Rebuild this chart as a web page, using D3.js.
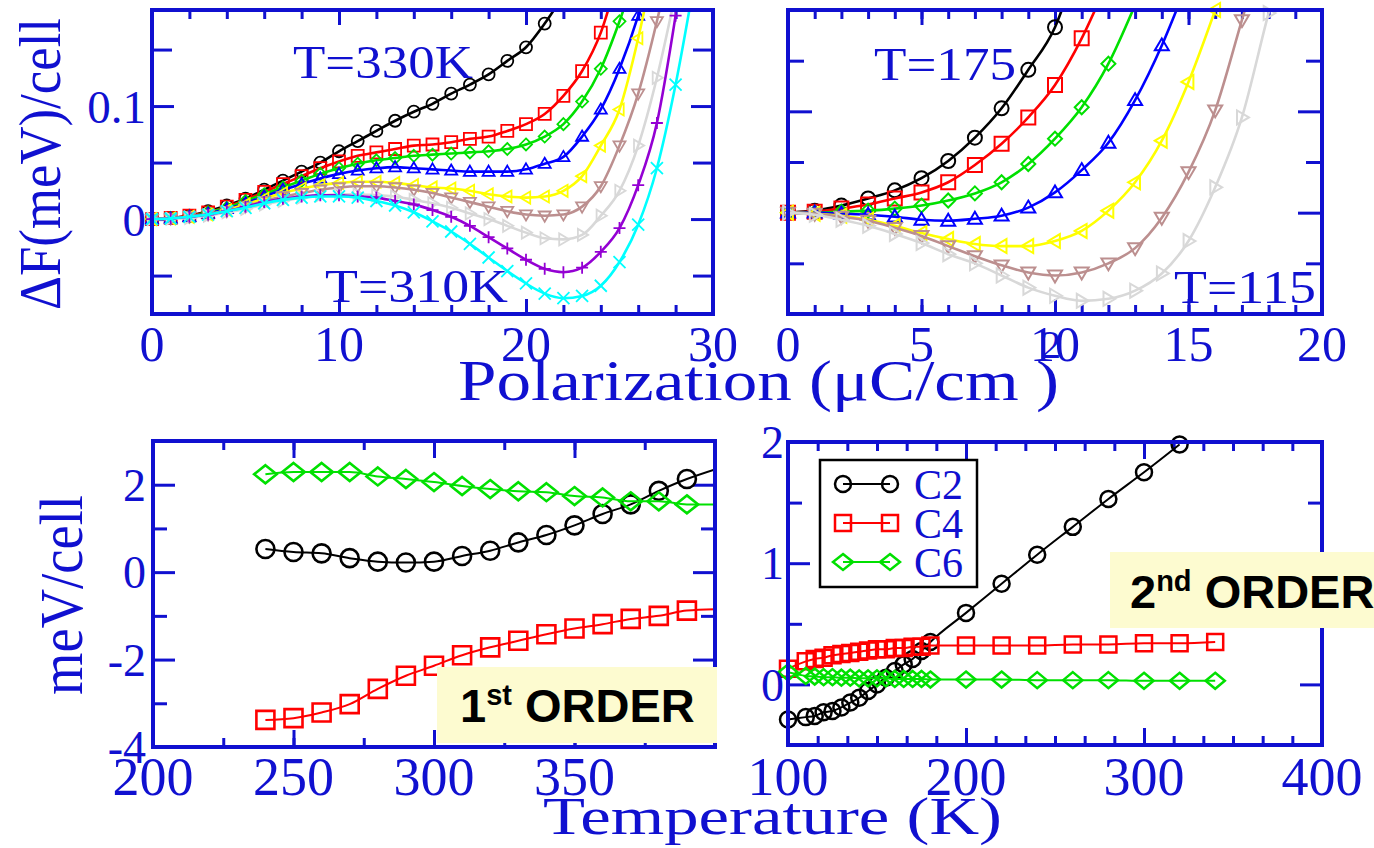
<!DOCTYPE html>
<html lang="en">
<head>
<meta charset="UTF-8">
<title>Free energy vs polarization, Landau coefficients vs temperature</title>
<script src="https://d3js.org/d3.v7.min.js"></script>
<style>
  body { margin: 0; background: #fff; }
  text { font-family: "Liberation Serif", "DejaVu Serif", serif; fill: #1010d0; }
  .order text, .order tspan { font-family: "Liberation Sans", Arial, sans-serif; font-weight: bold; fill: #000; }
</style>
</head>
<body>
<svg id="chart" width="1374" height="848"></svg>
<script>
// ---- data: top-left, dF vs P, T=330K (black) down to T=310K (cyan)
const polLeft = [0,1,2,3,4,5,6,7,8,9,10,11,12,13,14,15,16,17,18,19,20,21,22,23,24,25,26,27,28,29];
const tl330   = [0,0.001,0.003,0.007,0.012,0.018,0.026,0.034,0.042,0.050,0.060,0.069,0.078,0.087,0.095,0.102,0.111,0.119,0.128,0.140,0.152,0.173,0.198];
const tl327_5 = [0,0.001,0.003,0.006,0.011,0.017,0.024,0.031,0.038,0.045,0.051,0.056,0.059,0.062,0.065,0.066,0.068,0.071,0.073,0.078,0.084,0.093,0.109,0.131,0.165,0.220];
const tl325   = [0,0.001,0.002,0.006,0.010,0.016,0.022,0.028,0.034,0.040,0.045,0.049,0.052,0.054,0.056,0.057,0.058,0.059,0.060,0.062,0.066,0.073,0.084,0.104,0.133,0.175,0.225];
const tl322_5 = [0,0.0005,0.002,0.005,0.009,0.014,0.020,0.026,0.031,0.036,0.040,0.043,0.045,0.046,0.045,0.044,0.043,0.042,0.042,0.042,0.044,0.049,0.055,0.073,0.097,0.133,0.180,0.240];
const tl320   = [0,0.0005,0.002,0.004,0.008,0.013,0.018,0.023,0.027,0.030,0.032,0.033,0.033,0.032,0.030,0.028,0.027,0.025,0.022,0.020,0.019,0.020,0.025,0.038,0.065,0.097,0.160,0.240];
const tl317_5 = [0,0.0005,0.002,0.004,0.007,0.011,0.016,0.020,0.023,0.026,0.028,0.029,0.029,0.028,0.026,0.023,0.019,0.015,0.011,0.007,0.004,0.003,0.004,0.011,0.029,0.065,0.111,0.175,0.250];
const tl315   = [0,0.0003,0.001,0.003,0.006,0.009,0.013,0.016,0.019,0.021,0.022,0.022,0.021,0.020,0.017,0.014,0.010,0.005,0.000,-0.006,-0.012,-0.017,-0.018,-0.014,0.003,0.025,0.065,0.125,0.200];
const tl312_5 = [0,0.0005,0.002,0.004,0.007,0.011,0.015,0.018,0.020,0.021,0.021,0.020,0.019,0.016,0.013,0.008,0.002,-0.006,-0.016,-0.026,-0.036,-0.044,-0.047,-0.043,-0.029,-0.008,0.030,0.085,0.180];
const tl310   = [0,0.0005,0.002,0.004,0.007,0.010,0.014,0.017,0.019,0.020,0.020,0.019,0.016,0.012,0.006,-0.002,-0.011,-0.022,-0.034,-0.046,-0.057,-0.066,-0.070,-0.068,-0.059,-0.038,-0.005,0.045,0.119,0.210];

// ---- data: top-right, dF vs P, T=175 (black) down to T=115 (grey)
const polRight = [0,1,2,3,4,5,6,7,8,9,10,11,12,13,14,15,16,17,18,19];
const tr175 = [0,0.002,0.007,0.014,0.022,0.034,0.051,0.074,0.103,0.141,0.183,0.26];
const tr165 = [0,0.001,0.004,0.008,0.014,0.020,0.030,0.047,0.068,0.094,0.126,0.172,0.23];
const tr155 = [0,0,0.001,0.002,0.004,0.007,0.012,0.019,0.030,0.048,0.073,0.104,0.147,0.205];
const tr145 = [0,0,-0.001,-0.002,-0.004,-0.007,-0.008,-0.006,-0.003,0.005,0.020,0.042,0.069,0.111,0.165,0.23];
const tr135 = [0,-0.001,-0.003,-0.007,-0.013,-0.020,-0.026,-0.031,-0.033,-0.033,-0.028,-0.018,0.002,0.030,0.071,0.129,0.200];
const tr125 = [0,-0.001,-0.004,-0.008,-0.015,-0.023,-0.033,-0.043,-0.052,-0.059,-0.062,-0.059,-0.050,-0.035,-0.005,0.040,0.101,0.190,0.28];
const tr115 = [0,-0.002,-0.007,-0.013,-0.021,-0.030,-0.041,-0.050,-0.062,-0.074,-0.082,-0.087,-0.085,-0.077,-0.060,-0.028,0.025,0.094,0.197,0.29];

// ---- data: bottom-left, coefficients (meV/cell) vs T, 1st order
const tempLeft = [240,250,260,270,280,290,300,310,320,330,340,350,360,370,380,390,400];
const blC2 = [0.53,0.46,0.43,0.32,0.24,0.22,0.24,0.37,0.49,0.68,0.85,1.07,1.33,1.55,1.86,2.13,2.35];
const blC4 = [-3.38,-3.34,-3.21,-3.02,-2.67,-2.37,-2.14,-1.90,-1.72,-1.57,-1.42,-1.29,-1.19,-1.07,-1.00,-0.88,-0.85];
const blC6 = [2.24,2.29,2.29,2.29,2.19,2.13,2.06,1.97,1.90,1.85,1.83,1.74,1.71,1.62,1.62,1.55,1.55];

// ---- data: bottom-right, coefficients vs T, 2nd order
const tempRight = [100,110,115,120,125,130,135,140,145,150,155,160,165,170,175,180,200,220,240,260,280,300,320,340];
const brC2 = [-0.29,-0.27,-0.26,-0.23,-0.22,-0.19,-0.15,-0.11,-0.055,0.0,0.055,0.11,0.165,0.21,0.275,0.35,0.59,0.83,1.07,1.30,1.53,1.75,1.98];
const brC4 = [0.13,0.19,0.21,0.22,0.24,0.25,0.26,0.27,0.28,0.29,0.29,0.30,0.30,0.31,0.31,0.32,0.32,0.32,0.32,0.33,0.33,0.34,0.34,0.35];
const brC6 = [0.10,0.07,0.065,0.06,0.06,0.055,0.055,0.05,0.05,0.05,0.05,0.045,0.045,0.045,0.045,0.04,0.04,0.04,0.035,0.035,0.035,0.03,0.03,0.03];

// tick labels
const tlXLabels = [0,10,20,30], tlYLabels = [0,0.1];
const trXLabels = [0,5,10,15,20];
const blXLabels = [200,250,300,350], blYLabels = [-4,-2,0,2];
const brXLabels = [100,200,300,400], brYLabels = [0,1,2];
const legendNames = ["C2","C4","C6"];

// styles (grace palette)
const curveColors = ["#000000","#ff0000","#00e000","#0000ff","#ffff00","#bc8f8f","#d8d8d8","#9400d3","#00ffff"];
const curveSymbols = ["circle","square","diamond","up","left","down","right","plus","cross"];
const BLUE = "#1010d0";

const svg = d3.select("#chart");
svg.append("rect").attr("width", 1374).attr("height", 848).attr("fill", "#fff");

function markerPath(sym, s, w) {
  w = w || s;
  switch (sym) {
    case "circle": return `M${s},0A${s},${s} 0 1,1 ${-s},0A${s},${s} 0 1,1 ${s},0Z`;
    case "square": return `M${-s},${-s}H${s}V${s}H${-s}Z`;
    case "diamond": return `M0,${-s}L${w},0L0,${s}L${-w},0Z`;
    case "up": return `M0,${-s}L${s},${s*0.7}L${-s},${s*0.7}Z`;
    case "down": return `M0,${s}L${s},${-s*0.7}L${-s},${-s*0.7}Z`;
    case "left": return `M${-s},0L${s*0.7},${-s}L${s*0.7},${s}Z`;
    case "right": return `M${s},0L${-s*0.7},${-s}L${-s*0.7},${s}Z`;
    case "plus": return `M${-s},0H${s}M0,${-s}V${s}`;
    case "cross": return `M${-s},${-s}L${s},${s}M${s},${-s}L${-s},${s}`;
  }
}

function makePanel(p) {
  const x = d3.scaleLinear().domain(p.xDomain).range([p.left, p.right]);
  const y = d3.scaleLinear().domain(p.yDomain).range([p.bottom, p.top]);
  const g = svg.append("g");

  svg.append("clipPath").attr("id", "clip-" + p.id).append("rect")
    .attr("x", p.left).attr("y", p.top)
    .attr("width", p.right - p.left).attr("height", p.bottom - p.top);

  // inward ticks on all four sides, minor + major
  const tickSets = [
    [d3.axisBottom, x, p.bottom, "x"], [d3.axisTop, x, p.top, "x"],
    [d3.axisLeft, y, p.left, "y"], [d3.axisRight, y, p.right, "y"]
  ];
  tickSets.forEach(([axisFn, sc, pos, dir]) => {
    const t = dir === "x" ? p.xTicks : p.yTicks;
    [[t.minor, t.minLen], [t.major, t.majLen]].forEach(([vals, len]) => {
      const ax = g.append("g")
        .attr("transform", dir === "x" ? `translate(0,${pos})` : `translate(${pos},0)`)
        .attr("color", BLUE)
        .call(axisFn(sc).tickValues(vals).tickSize(-len).tickFormat(""));
      ax.select(".domain").remove();
      ax.selectAll("line").attr("stroke-width", 3);
    });
  });

  // curves
  const line = d3.line().x(d => x(d[0])).y(d => y(d[1])).curve(d3.curveMonotoneX);
  const dataG = g.append("g");
  p.series.forEach(s => {
    const pts = s.values.map((v, i) => [s.xs[i], v]);
    dataG.append("path")
      .datum(pts)
      .attr("clip-path", `url(#clip-${p.id})`)
      .attr("fill", "none")
      .attr("stroke", s.color)
      .attr("stroke-width", p.lineWidth)
      .attr("d", line);
    dataG.append("g").selectAll("path")
      .data(pts.filter(d => d[1] <= p.yDomain[1] && d[0] < p.xDomain[1]))
      .join("path")
      .attr("transform", d => `translate(${x(d[0])},${y(d[1])})`)
      .attr("d", markerPath(s.symbol, p.markSize, p.markSize * (s.symbol === "diamond" ? p.diamondW : 1)))
      .attr("fill", "none")
      .attr("stroke", s.color)
      .attr("stroke-width", p.markWidth);
  });

  // frame
  g.append("rect")
    .attr("x", p.left).attr("y", p.top)
    .attr("width", p.right - p.left).attr("height", p.bottom - p.top)
    .attr("fill", "none").attr("stroke", BLUE).attr("stroke-width", 4);

  // tick labels
  g.append("g").selectAll("text").data(p.xLabels).join("text")
    .attr("x", d => x(d)).attr("y", p.xLabelY)
    .attr("text-anchor", "middle").attr("font-size", p.xLabelSize)
    .text(d => d);
  g.append("g").selectAll("text").data(p.yLabels).join("text")
    .attr("x", p.yLabelX).attr("y", d => y(d)).attr("dy", "0.35em")
    .attr("text-anchor", "end").attr("font-size", p.yLabelSize)
    .text(d => d);
  return { x, y, g };
}

const tlValues = [tl330, tl327_5, tl325, tl322_5, tl320, tl317_5, tl315, tl312_5, tl310];
const trValues = [tr175, tr165, tr155, tr145, tr135, tr125, tr115];

makePanel({
  id: "tl", left: 152, right: 713, top: 10, bottom: 314,
  xDomain: [0, 30], yDomain: [-0.084, 0.185],
  xTicks: { minor: d3.range(0, 31, 2), major: [0, 10, 20, 30], minLen: 9, majLen: 15 },
  yTicks: { minor: [-0.05, 0.05, 0.15], major: [0, 0.1], minLen: 20, majLen: 22 },
  series: tlValues.map((v, i) => ({ xs: polLeft, values: v, color: curveColors[i], symbol: curveSymbols[i] })),
  lineWidth: 2.6, markSize: 6, markWidth: 1.8, diamondW: 1,
  xLabels: tlXLabels, xLabelY: 361, xLabelSize: 50,
  yLabels: tlYLabels, yLabelX: 146, yLabelSize: 47
});

makePanel({
  id: "tr", left: 788, right: 1322, top: 10, bottom: 314,
  xDomain: [0, 20], yDomain: [-0.1, 0.2],
  xTicks: { minor: d3.range(0, 21, 1), major: [0, 5, 10, 15, 20], minLen: 9, majLen: 15 },
  yTicks: { minor: [-0.05, 0.05, 0.15], major: [0, 0.1], minLen: 16, majLen: 24 },
  series: trValues.map((v, i) => ({ xs: polRight, values: v, color: curveColors[i], symbol: curveSymbols[i] })),
  lineWidth: 2.6, markSize: 7, markWidth: 2, diamondW: 1,
  xLabels: trXLabels, xLabelY: 361, xLabelSize: 50,
  yLabels: [], yLabelX: 780, yLabelSize: 47
});

makePanel({
  id: "bl", left: 153, right: 715, top: 441, bottom: 747,
  xDomain: [200, 400], yDomain: [-4, 3],
  xTicks: { minor: d3.range(200, 401, 25), major: [200, 250, 300, 350, 400], minLen: 9, majLen: 17 },
  yTicks: { minor: [-3, -1, 1, 3], major: [-4, -2, 0, 2], minLen: 14, majLen: 22 },
  series: [
    { xs: tempLeft, values: blC2, color: curveColors[0], symbol: "circle" },
    { xs: tempLeft, values: blC4, color: curveColors[1], symbol: "square" },
    { xs: tempLeft, values: blC6, color: curveColors[2], symbol: "diamond" }
  ],
  lineWidth: 2, markSize: 9, markWidth: 2.6, diamondW: 1.25,
  xLabels: blXLabels, xLabelY: 795, xLabelSize: 54,
  yLabels: blYLabels, yLabelX: 146, yLabelSize: 46
});

const br = makePanel({
  id: "br", left: 788, right: 1322, top: 442, bottom: 745,
  xDomain: [100, 400], yDomain: [-0.5, 2],
  xTicks: { minor: d3.range(0, 19).map(i => 100 + i * 50 / 3), major: [100, 200, 300, 400], minLen: 9, majLen: 17 },
  yTicks: { minor: [-0.5, 0.5, 1.5], major: [0, 1, 2], minLen: 14, majLen: 22 },
  series: [
    { xs: tempRight, values: brC2, color: curveColors[0], symbol: "circle" },
    { xs: tempRight, values: brC4, color: curveColors[1], symbol: "square" },
    { xs: tempRight, values: brC6, color: curveColors[2], symbol: "diamond" }
  ],
  lineWidth: 2, markSize: 8, markWidth: 2.5, diamondW: 1.2,
  xLabels: brXLabels, xLabelY: 795, xLabelSize: 54,
  yLabels: brYLabels, yLabelX: 784, yLabelSize: 46
});

// legend
const leg = svg.append("g");
leg.append("rect").attr("x", 820).attr("y", 460).attr("width", 157).attr("height", 127)
  .attr("fill", "#fff").attr("stroke", "#000").attr("stroke-width", 2.5);
const legSyms = ["circle", "square", "diamond"];
const legRows = leg.selectAll("g.row").data(legendNames).join("g")
  .attr("class", "row")
  .attr("transform", (d, i) => `translate(0,${484 + i * 39})`);
legRows.append("line").attr("x1", 843).attr("x2", 890)
  .attr("stroke", (d, i) => curveColors[i]).attr("stroke-width", 2);
[843, 890].forEach(cx => {
  legRows.append("path")
    .attr("transform", `translate(${cx},0)`)
    .attr("d", (d, i) => markerPath(legSyms[i], 8, i === 2 ? 10 : 8))
    .attr("fill", "none").attr("stroke", (d, i) => curveColors[i]).attr("stroke-width", 2.5);
});
legRows.append("text").attr("x", 914).attr("y", 15).attr("font-size", 42).text(d => d);

// temperature labels inside top panels
const tLabels = [
  { t: "T=330K", x: 293, y: 78, len: 180 },
  { t: "T=310K", x: 325, y: 302, len: 183 },
  { t: "T=175", x: 874, y: 80, len: 142 },
  { t: "T=115", x: 1174, y: 303, len: 142 }
];
svg.append("g").selectAll("text").data(tLabels).join("text")
  .attr("x", d => d.x).attr("y", d => d.y)
  .attr("font-size", 47)
  .attr("textLength", d => d.len).attr("lengthAdjust", "spacingAndGlyphs")
  .text(d => d.t);

// axis titles
svg.append("text")
  .attr("transform", "translate(60,164) rotate(-90)")
  .attr("text-anchor", "middle").attr("font-size", 60)
  .attr("textLength", 292).attr("lengthAdjust", "spacingAndGlyphs")
  .text("ΔF(meV)/cell");
svg.append("text")
  .attr("transform", "translate(82,595) rotate(-90)")
  .attr("text-anchor", "middle").attr("font-size", 62)
  .attr("textLength", 200).attr("lengthAdjust", "spacingAndGlyphs")
  .text("meV/cell");
svg.append("text")
  .attr("x", 458).attr("y", 400).attr("font-size", 56)
  .attr("textLength", 601).attr("lengthAdjust", "spacingAndGlyphs")
  .text("Polarization (μC/cm )");
svg.append("text").attr("x", 1051).attr("y", 358)
  .attr("text-anchor", "middle").attr("font-size", 40).text("2");
svg.append("text")
  .attr("x", 543).attr("y", 834).attr("font-size", 53)
  .attr("textLength", 459).attr("lengthAdjust", "spacingAndGlyphs")
  .text("Temperature (K)");

// order boxes
const orders = [
  { n: "1", sup: "st", x: 437, y: 667, w: 280, tx: 460, ty: 722 },
  { n: "2", sup: "nd", x: 1110, y: 552, w: 280, tx: 1130, ty: 608 }
];
const og = svg.append("g").attr("class", "order").selectAll("g").data(orders).join("g");
og.append("rect").attr("x", d => d.x).attr("y", d => d.y).attr("width", d => d.w).attr("height", 76)
  .attr("fill", "#fdfbd0");
const ot = og.append("text").attr("x", d => d.tx).attr("y", d => d.ty).attr("font-size", 47);
ot.append("tspan").text(d => d.n);
ot.append("tspan").attr("font-size", 29).attr("dy", -17).text(d => d.sup);
ot.append("tspan").attr("dy", 17).text(" ORDER");
</script>
</body>
</html>
